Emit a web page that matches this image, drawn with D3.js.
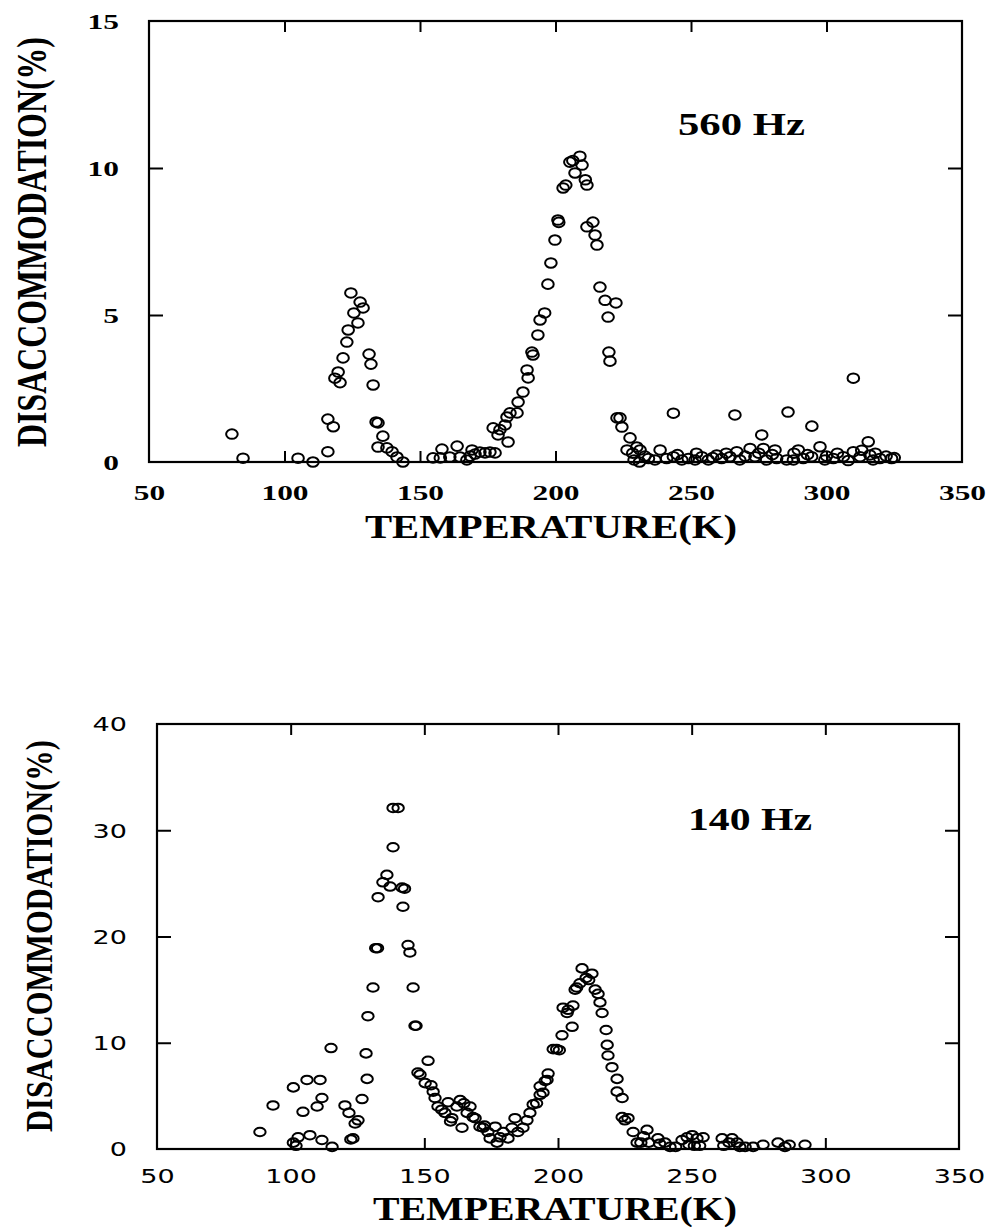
<!DOCTYPE html>
<html>
<head>
<meta charset="utf-8">
<script src="https://cdn.jsdelivr.net/npm/d3@7"></script>
<style>
  html, body { margin: 0; padding: 0; background: #fff; }
  svg { display: block; }
</style>
</head>
<body>
<script>
// ---------------- DATA ----------------
const xTicks = [50, 100, 150, 200, 250, 300, 350];
const xInnerTicks = [100, 150, 200, 250, 300];
const yTicks560 = [0, 5, 10, 15];
const yInner560 = [5, 10];
const yTicks140 = [0, 10, 20, 30, 40];
const yInner140 = [10, 20, 30];
const xTitle = "TEMPERATURE(K)";
const yTitle = "DISACCOMMODATION(%)";
const label560 = "560 Hz";
const label140 = "140 Hz";

// [temperature K, disaccommodation %] at 560 Hz
const data560 = [
  [80.6,0.95],[84.7,0.13],[105,0.13],[110.5,0.0],[116,0.35],[116,1.46],[118,1.2],[118.6,2.85],
  [119.8,3.06],[120.5,2.7],[121.6,3.54],[123,4.08],[123.5,4.49],[124.5,5.75],[125.6,5.07],
  [127.1,4.73],[127.9,5.44],[129,5.24],[131.2,3.67],[131.9,3.33],[132.7,2.62],[133.8,1.36],
  [134.5,1.33],[134.5,0.51],[136.3,0.88],[137.8,0.48],[139.7,0.35],[141.5,0.17],[143.7,0.0],
  [154.8,0.14],[157.5,0.14],[158.1,0.44],[161,0.17],[163.7,0.54],[164.8,0.17],[167.3,0.07],
  [168.5,0.2],[169.2,0.41],[170.3,0.27],[172.1,0.34],[174,0.31],[175.8,0.34],[177.7,0.31],
  [177,1.16],[178.8,0.92],[179.5,1.1],[181.4,1.26],[182.1,1.53],[182.5,0.68],[183.2,1.67],
  [185.8,1.67],[186.2,2.04],[188,2.38],[189.5,3.13],[189.9,2.86],[191.3,3.74],[191.7,3.64],
  [193.5,4.32],[194.3,4.83],[196,5.07],[197.2,6.05],[198.3,6.77],[199.8,7.55],[200.9,8.23],
  [201.2,8.15],[202.8,9.32],[203.8,9.42],[205.3,10.2],[206.4,10.25],[207.2,9.83],[209,10.4],
  [209.8,10.1],[211,9.6],[211.6,9.42],[211.6,8.0],[213.8,8.16],[214.6,7.72],[215.3,7.38],
  [216.4,5.95],[218.3,5.5],[219.4,4.93],[219.7,3.74],[220.1,3.43],[222.3,5.41],[222.7,1.5],
  [223.8,1.5],[224.5,1.19],[226.4,0.41],[227.5,0.82],[228.5,0.3],[229,0.07],[230,0.51],[231,0.0],
  [231.2,0.41],[233,0.2],[234.3,0.12],[236.7,0.07],[238.6,0.41],[241,0.12],[243.5,0.18],
  [243.5,1.66],[245,0.25],[246.6,0.07],[249,0.12],[251.5,0.07],[252,0.3],[254,0.18],[256.4,0.07],
  [258,0.15],[259.5,0.24],[261.3,0.12],[263,0.3],[264.4,0.18],[266.2,1.6],[266.9,0.35],[268,0.07],
  [270,0.2],[271.8,0.46],[273.6,0.18],[275,0.3],[276.1,0.92],[276.7,0.46],[277.9,0.07],[280,0.25],
  [281,0.41],[281.6,0.12],[285.3,0.07],[285.8,1.7],[287.8,0.07],[288,0.3],[289.6,0.41],
  [291.4,0.12],[293,0.25],[294.5,0.18],[294.6,1.22],[297.6,0.52],[299.4,0.07],[300,0.2],
  [302.5,0.12],[304,0.3],[306.2,0.18],[308,0.05],[309.9,0.35],[309.9,2.85],[312.4,0.18],
  [313,0.4],[315.4,0.69],[316,0.24],[317.2,0.07],[318,0.3],[319.7,0.12],[322,0.2],[324,0.12],[325,0.15]
];

// [temperature K, disaccommodation %] at 140 Hz
const data140 = [
  [88.5,1.6],[93.4,4.1],[101,5.8],[101,0.6],[102,0.3],[102.8,1.1],[104.6,3.5],[106.1,6.5],
  [107.2,1.3],[109.9,4.0],[111,6.5],[111.7,4.8],[111.7,0.85],[115.1,9.5],[115.5,0.2],
  [120.3,4.1],[121.8,3.4],[122.5,0.9],[123.3,1.0],[124.1,2.4],[125.2,2.7],[126.7,4.7],
  [128.2,9.0],[128.6,6.6],[128.9,12.5],[130.8,15.2],[131.8,18.9],[132.5,18.9],[132.7,23.7],
  [134.5,25.1],[136,25.8],[137.2,24.7],[138.3,28.4],[138.3,32.1],[140.2,32.1],[141.7,24.6],
  [142.6,24.5],[142,22.8],[143.9,19.2],[144.6,18.5],[145.8,15.2],[146.5,11.6],[146.9,11.6],
  [147.6,7.2],[148.4,7.0],[150.3,6.2],[151.4,8.3],[152.5,6.0],[153.3,5.4],[154,4.8],[155.1,4.0],
  [156.5,3.7],[157.7,3.4],[158.9,4.4],[159.8,2.6],[160.3,2.9],[162.2,4.0],[163.4,4.6],[164.1,2.0],
  [164.8,4.3],[166,3.4],[167.1,4.0],[168.2,3.0],[169,2.9],[170.8,2.1],[172,2.0],[172.5,2.2],
  [173.8,1.6],[174.6,1.0],[176.5,2.1],[177.2,0.6],[178.3,1.1],[179.5,1.6],[181.3,1.0],[182.8,2.0],
  [183.9,2.9],[185,1.6],[186.9,2.0],[188.4,2.7],[189.5,3.4],[190.7,4.2],[192,4.3],[193.3,5.1],
  [194.4,5.3],[193.3,5.9],[195.2,6.4],[195.9,6.5],[196.3,7.1],[198.2,9.4],[199.5,9.4],[200.5,9.3],
  [201.5,10.7],[201.9,13.3],[203.4,12.8],[203.8,13.1],[205.3,11.5],[205.6,13.5],[206.4,15.0],
  [207,15.2],[208.2,15.6],[209,17.0],[210.5,16.1],[211.5,15.9],[212.7,16.5],[213.9,15.0],
  [215,14.6],[215.7,13.8],[216.5,12.8],[218,11.2],[218.4,9.8],[218.7,8.8],[220.2,7.7],[222.1,6.6],
  [222.1,5.4],[224,4.8],[224,3.0],[225,2.7],[226.2,2.9],[228.1,1.6],[229.6,0.6],[231,0.6],
  [232,1.2],[233.3,1.8],[234,0.6],[237.4,1.0],[238,0.5],[240,0.6],[241.9,0.2],[244,0.2],
  [246.4,0.85],[248.3,1.1],[249,0.4],[250.2,1.3],[251,0.3],[252,1.0],[253,0.3],[254.3,1.1],
  [261.4,1.0],[262,0.3],[264,0.6],[265.1,1.0],[267,0.6],[268,0.2],[270,0.2],[273,0.2],
  [276.7,0.4],[282.3,0.6],[284.9,0.2],[286.5,0.4],[292.4,0.4]
];

// ---------------- DRAWING ----------------
const svg = d3.select("body").append("svg")
  .attr("width", 991).attr("height", 1227)
  .attr("viewBox", "0 0 991 1227");

const SERIF = "'Liberation Serif', 'Times New Roman', serif";
const SANS = "'DejaVu Sans', 'Liberation Sans', sans-serif";

function panel(cfg) {
  const x = d3.scaleLinear().domain([50, 350]).range(cfg.xRange);
  const y = d3.scaleLinear().domain(cfg.yDomain).range(cfg.yRange);
  const g = svg.append("g");
  const [x0, x1] = cfg.xRange;
  const [yb, yt] = cfg.yRange;

  // frame
  g.append("rect")
    .attr("x", x0).attr("y", yt)
    .attr("width", x1 - x0).attr("height", yb - yt)
    .attr("fill", "none").attr("stroke", "#000").attr("stroke-width", 2.2);

  // inner tick marks (all four sides)
  const tickStyle = sel => {
    sel.select(".domain").remove();
    sel.selectAll("line").attr("stroke", "#000").attr("stroke-width", 2);
  };
  g.append("g").attr("transform", `translate(0,${yb})`)
    .call(d3.axisBottom(x).tickValues(xInnerTicks).tickSizeInner(-11).tickSizeOuter(0).tickFormat(""))
    .call(tickStyle);
  g.append("g").attr("transform", `translate(0,${yt})`)
    .call(d3.axisTop(x).tickValues(xInnerTicks).tickSizeInner(-11).tickSizeOuter(0).tickFormat(""))
    .call(tickStyle);
  g.append("g").attr("transform", `translate(${x0},0)`)
    .call(d3.axisLeft(y).tickValues(cfg.yInner).tickSizeInner(-14).tickSizeOuter(0).tickFormat(""))
    .call(tickStyle);
  g.append("g").attr("transform", `translate(${x1},0)`)
    .call(d3.axisRight(y).tickValues(cfg.yInner).tickSizeInner(-14).tickSizeOuter(0).tickFormat(""))
    .call(tickStyle);

  // tick labels
  const labStyle = sel => {
    sel.select(".domain").remove();
    sel.selectAll("line").remove();
    sel.attr("font-family", cfg.tickFont).attr("font-size", cfg.tickSize)
       .attr("font-weight", cfg.tickWeight);
    sel.selectAll("text").attr("fill", "#000")
       .attr("textLength", d => String(d).length * cfg.tickCharW)
       .attr("lengthAdjust", "spacingAndGlyphs");
  };
  g.append("g").attr("transform", `translate(0,${yb})`)
    .call(d3.axisBottom(x).tickValues(xTicks).tickSize(0).tickPadding(0))
    .call(labStyle)
    .selectAll("text").attr("y", cfg.xLabBase).attr("dy", "0");
  g.append("g").attr("transform", `translate(${x0},0)`)
    .call(d3.axisLeft(y).tickValues(cfg.yTicks).tickSize(0).tickPadding(cfg.yLabPad))
    .call(labStyle)
    .selectAll("text").attr("dy", "0.34em");

  // data markers
  g.append("g").selectAll("ellipse")
    .data(cfg.data)
    .join("ellipse")
    .attr("cx", d => x(d[0]))
    .attr("cy", d => y(d[1]))
    .attr("rx", cfg.rx).attr("ry", cfg.ry)
    .attr("fill", "none").attr("stroke", "#000").attr("stroke-width", 2);

  // frequency label
  g.append("text")
    .attr("x", cfg.lab.x).attr("y", cfg.lab.y)
    .attr("font-family", SERIF).attr("font-weight", "bold").attr("font-size", 32)
    .attr("textLength", cfg.lab.w).attr("lengthAdjust", "spacingAndGlyphs")
    .text(cfg.lab.text);

  // x title
  g.append("text")
    .attr("x", cfg.xt.x).attr("y", cfg.xt.y)
    .attr("font-family", SERIF).attr("font-weight", "bold").attr("font-size", cfg.xt.size)
    .attr("textLength", cfg.xt.w).attr("lengthAdjust", "spacingAndGlyphs")
    .text(xTitle);

  // y title (condensed along its length with a scale transform)
  const yt_ = g.append("text")
    .attr("text-anchor", "middle")
    .attr("font-family", SERIF).attr("font-weight", "bold").attr("font-size", cfg.yt.size)
    .text(yTitle);
  const natural = yt_.node().getComputedTextLength() || cfg.yt.w;
  yt_.attr("transform",
    `translate(${cfg.yt.x},${cfg.yt.y}) rotate(-90) scale(${cfg.yt.w / natural},1)`);
}

panel({
  xRange: [149, 962], yDomain: [0, 15], yRange: [462, 21],
  yTicks: yTicks560, yInner: yInner560, data: data560,
  tickFont: SERIF, tickSize: 22, tickWeight: "bold", tickCharW: 15.7,
  xLabBase: 38, yLabPad: 30,
  rx: 5.8, ry: 4.8,
  lab: { text: label560, x: 678, y: 135, w: 127 },
  xt: { x: 365, y: 538, size: 34, w: 372 },
  yt: { x: 46, y: 242, size: 42, w: 410 }
});

panel({
  xRange: [157, 959], yDomain: [0, 40], yRange: [1149, 724],
  yTicks: yTicks140, yInner: yInner140, data: data140,
  tickFont: SANS, tickSize: 20, tickWeight: "normal", tickCharW: 17.2,
  xLabBase: 34, yLabPad: 30,
  rx: 5.7, ry: 4.3,
  lab: { text: label140, x: 688, y: 830, w: 124 },
  xt: { x: 373, y: 1220, size: 33, w: 364 },
  yt: { x: 52, y: 936, size: 37, w: 392 }
});
</script>
</body>
</html>
